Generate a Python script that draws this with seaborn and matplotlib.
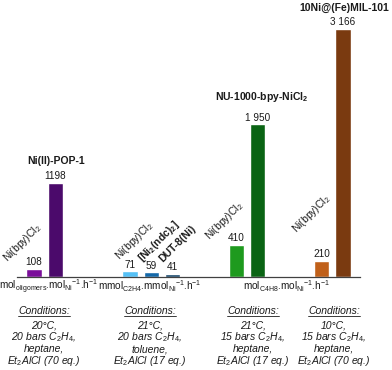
import pandas as pd
import seaborn as sns
import matplotlib.pyplot as plt
from matplotlib.lines import Line2D

# --- data ---
groups = [0, 0, 1, 1, 1, 2, 2, 3, 3]
values = [108, 1198, 71, 59, 41, 410, 1950, 210, 3166]
value_labels = ['108', '1198', '71', '59', '41', '410', '1 950', '210', '3 166']
bar_names = ['Ni(bpy)Cl$_2$', 'Ni(II)-POP-1',
             'Ni(bpy)Cl$_2$', '[Ni$_\\mathbf{2}$(ndc)$_\\mathbf{2}$]', 'DUT-8(Ni)',
             'Ni(bpy)Cl$_2$', 'NU-1000-bpy-NiCl$_\\mathbf{2}$',
             'Ni(bpy)Cl$_2$', '10Ni@(Fe)MIL-101']
units = ['mol$_{\\mathrm{oligomers}}$.mol$_{\\mathrm{Ni}}{}^{\\mathrm{-1}}$.h$^{\\mathrm{-1}}$',
         'mmol$_{\\mathrm{C2H4}}$.mmol$_{\\mathrm{Ni}}{}^{\\mathrm{-1}}$.h$^{\\mathrm{-1}}$',
         'mol$_{\\mathrm{C4H8}}$.mol$_{\\mathrm{Ni}}{}^{\\mathrm{-1}}$.h$^{\\mathrm{-1}}$']
conditions = [
    ['20°C,', '20 bars C$_2$H$_4$,', 'heptane,', 'Et$_2$AlCl (70 eq.)'],
    ['21°C,', '20 bars C$_2$H$_4$,', 'toluene,', 'Et$_2$AlCl (17 eq.)'],
    ['21°C,', '15 bars C$_2$H$_4$,', 'heptane,', 'Et$_2$AlCl (17 eq.)'],
    ['10°C,', '15 bars C$_2$H$_4$,', 'heptane,', 'Et$_2$AlCl (70 eq.)'],
]

# --- styling / layout ---
colors = ['#7a0e9a', '#4b0a6b', '#55c0f5', '#1468a8', '#16466a',
          '#1e9a1e', '#0a6414', '#c0601a', '#7a3a10']
group_gap = {1: 3.5, 2: 3.0, 3: 3.0}
rotated = [True, False, True, True, True, True, False, True, False]
bold = [False, True, False, True, True, False, True, False, True]
# label offsets from bar top, in points
label_offsets = [(-19.4, 4.3), (0.7, 15.8), (-7.6, 7.9), (-6.8, 7.2), (-7.2, 7.9),
                 (-19.4, 3.6), (3.2, 19.4), (-18.7, 20.0), (0.7, 15.1)]
unit_x = [49, 150, 286]
cond_x = [44, 150, 253, 334]
W, H = 392, 370

sns.set_style('white')
plt.rcParams['font.family'] = ['Liberation Sans', 'DejaVu Sans']
plt.rcParams['mathtext.fontset'] = 'custom'
plt.rcParams['mathtext.rm'] = 'Liberation Sans'
plt.rcParams['mathtext.it'] = 'Liberation Sans:italic'
plt.rcParams['mathtext.bf'] = 'Liberation Sans:bold'
txt_color = '#1a1a1a'

# bar positions from the grouping
xpos = []
prev = None
for g in groups:
    if prev is None:
        cur = 0.0
    elif g != prev:
        cur += group_gap[g]
    else:
        cur += 1
    xpos.append(cur)
    prev = g

df = pd.DataFrame({'x': xpos, 'value': values,
                   'bar': ['b%d' % i for i in range(len(values))]})

fig = plt.figure(figsize=(W / 100, H / 100), dpi=100)
ax = fig.add_axes([17 / W, (H - 277) / H, 343 / W, 277 / H])
sns.barplot(data=df, x='x', y='value', hue='bar',
            palette=dict(zip(df['bar'], colors)), native_scale=True,
            width=0.72, dodge=False, legend=False, saturation=1, ax=ax)

ax.set_xlim(-0.8, 15.3)
ax.set_ylim(0, 3166 * 277 / 248)
ax.set_xticks([])
ax.set_yticks([])
ax.set_xlabel('')
ax.set_ylabel('')
for s in ['top', 'right', 'left']:
    ax.spines[s].set_visible(False)
ax.spines['bottom'].set_color('#404040')
ax.spines['bottom'].set_linewidth(0.9)

for i, v in enumerate(values):
    ax.annotate(value_labels[i], (xpos[i], v), xytext=(0, 1.2),
                textcoords='offset points', ha='center', va='bottom',
                fontsize=7.2, color=txt_color, annotation_clip=False)
    dx, dy = label_offsets[i]
    if rotated[i]:
        ax.annotate(bar_names[i], (xpos[i], v), xytext=(dx, dy),
                    textcoords='offset points', rotation=45,
                    rotation_mode='anchor', ha='left', va='baseline',
                    fontsize=7.5, fontweight='bold' if bold[i] else 'normal',
                    color=txt_color, annotation_clip=False)
    else:
        ax.annotate(bar_names[i], (xpos[i], v), xytext=(dx, dy),
                    textcoords='offset points', ha='center', va='center',
                    fontsize=7.5, fontweight='bold', color=txt_color,
                    annotation_clip=False)

for ux, u in zip(unit_x, units):
    fig.text(ux / W, 1 - 290 / H, u, ha='center', va='baseline',
             fontsize=7.2, color=txt_color)

baselines = [328, 340, 352, 364.5]
renderer = fig.canvas.get_renderer()
for cx, lines in zip(cond_x, conditions):
    t = fig.text(cx / W, 1 - 313.5 / H, 'Conditions:', ha='center',
                 va='baseline', fontsize=7.5, style='italic', color=txt_color)
    bb = t.get_window_extent(renderer)
    yy = 1 - 315.5 / H
    fig.add_artist(Line2D([bb.x0 / W, bb.x1 / W], [yy, yy],
                          transform=fig.transFigure, color=txt_color, lw=0.6))
    for yb, line in zip(baselines, lines):
        fig.text(cx / W, 1 - yb / H, line, ha='center', va='baseline',
                 fontsize=7.5, style='italic', color=txt_color)

fig.savefig('out.png', dpi=100)
